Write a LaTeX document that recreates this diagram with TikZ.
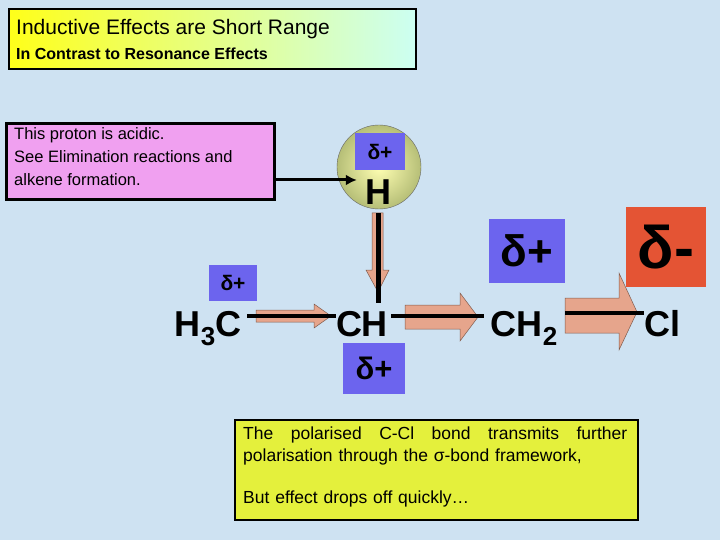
\documentclass[tikz,border=0pt]{standalone}
\usepackage{fontspec}
\setmainfont{Liberation Sans}
\usetikzlibrary{arrows.meta}
\definecolor{bg}{RGB}{206,226,242}
\definecolor{dblue}{RGB}{108,100,238}
\definecolor{dred}{RGB}{228,84,52}
\definecolor{pinkbox}{RGB}{240,160,240}
\definecolor{ybox}{RGB}{228,240,60}
\definecolor{arr}{RGB}{230,165,140}
\definecolor{hball}{RGB}{214,224,140}
\tikzset{
 dbox/.style={fill=dblue,inner sep=0pt,font=\bfseries},
 atom/.style={font=\fontsize{36}{36}\selectfont\bfseries,inner sep=0pt,anchor=base},
 barrow/.style={fill=arr,draw=arr!55!black,line width=0.5pt,line join=miter},
 bond/.style={line width=4.5pt},
}
\begin{document}
\begin{tikzpicture}[x=1pt,y=-1pt]
\useasboundingbox (0,0) rectangle (720,540);
\fill[bg] (0,0) rectangle (720,540);
% title
\shade[left color=yellow!90!white,right color=green!25!cyan!20!white] (9,9) rectangle (416,69);
\node[draw=black,line width=2pt,minimum width=407pt,minimum height=60pt,inner sep=0pt] (title) at (212.5,39) {};
\node[anchor=west,font=\fontsize{21}{22}\selectfont,inner sep=0pt] (t1) at (16,29) {Inductive Effects are Short Range};
\node[anchor=west,font=\fontsize{16}{17}\selectfont\bfseries,inner sep=0pt] (t2) at (16,54) {In Contrast to Resonance Effects};
% pink box
\node[draw=black,fill=pinkbox,line width=2.5pt,minimum width=268pt,minimum height=76pt,inner sep=0pt] (pink) at (140.5,161.5) {};
\node[anchor=north west,align=left,font=\fontsize{16.5}{23}\selectfont,inner sep=0pt] (ptext) at (14,127) {This proton is acidic.\\See Elimination reactions and\\alkene formation.};
% H ball
\shade[inner color=yellow!30!white,outer color=hball!85!black,draw=black!60] (379,167) circle (42);
\node[circle,minimum size=84pt] (ball) at (379,167) {};
\node[dbox,minimum width=50pt,minimum height=37pt,font=\fontsize{21}{21}\selectfont\bfseries] (d1) at (380,151.5) {δ+};
\node[atom] (H) at (378,205) {H};
\coordinate (pe) at (275,180);
\draw[-{Latex[length=11pt,width=11pt]},line width=3pt] (pe) -- ([xshift=-8pt]H.west|-pe);
% atoms
\node[atom] (H3C) at (208,336) {H\raisebox{-9pt}{\fontsize{26}{26}\selectfont 3}C};
\node[atom] (CH) at (362,336) {CH};
\node[atom] (CH2) at (524,336) {CH\raisebox{-9pt}{\fontsize{26}{26}\selectfont 2}};
\node[atom] (Cl) at (662,336) {Cl};
% vertical arrow
\draw[barrow] (372,213) -- (383,213) -- (383,270) -- (389,270) -- (378,292) -- (366,270) -- (372,270) -- cycle;
\draw[bond,line width=5pt] (378,213) -- (378,303);
% bond arrows
\draw[barrow] (256,310) -- (314,310) -- (314,304) -- (331,316) -- (314,328) -- (314,322) -- (256,322) -- cycle;
\draw[bond] (247,316) -- (CH.west|-316,316);
\draw[barrow] (405,305) -- (460,305) -- (460,293) -- (478,317) -- (460,341) -- (460,329) -- (405,329) -- cycle;
\draw[bond] (CH.east|-316,316) ++(3,0) -- (484,316);
\draw[barrow] (565,298) -- (619,298) -- (619,273) -- (637,312) -- (619,350) -- (619,333) -- (565,333) -- cycle;
\draw[bond] (565,313) -- (Cl.west|-313,313);
% deltas
\node[dbox,minimum width=48pt,minimum height=36pt,font=\fontsize{21}{21}\selectfont\bfseries] (d2) at (233,282.5) {δ+};
\node[dbox,minimum width=62pt,minimum height=51pt,font=\fontsize{31}{31}\selectfont\bfseries] (d3) at (374,368.5) {δ+};
\node[dbox,minimum width=76pt,minimum height=64pt,font=\fontsize{44}{44}\selectfont\bfseries] (d4) at (527,251) {δ+};
\node[fill=dred,inner sep=0pt,minimum width=80pt,minimum height=80pt,font=\fontsize{60}{60}\selectfont\bfseries] (d5) at (666,247) {δ-};
% bottom box
\node[draw=black,fill=ybox,line width=2.5pt,minimum width=403pt,minimum height=100pt,inner sep=0pt] (ybox) at (436.5,470) {};
\node[anchor=north west,text width=384pt,align=left,font=\fontsize{17.5}{22}\selectfont,inner sep=0pt] (ytext) at (243,427) {The\hfill polarised\hfill C-Cl\hfill bond\hfill transmits\hfill further\\polarisation through the σ-bond framework,\\[20pt]But effect drops off quickly…};
\end{tikzpicture}
\end{document}
